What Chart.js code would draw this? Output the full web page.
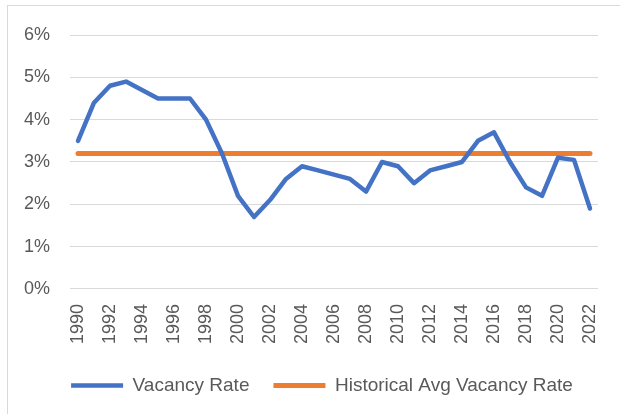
<!DOCTYPE html>
<html>
<head>
<meta charset="utf-8">
<script src="https://cdn.jsdelivr.net/npm/chart.js@4"></script>
<style>
  html, body { margin: 0; padding: 0; background: #fff; overflow: hidden; }
  #wrap { position: relative; width: 620px; height: 414px; }
  #frame { position: absolute; left: 7px; top: 5px; right: -2px; bottom: -2px;
           border-left: 1px solid #d9d9d9; border-top: 1px solid #d9d9d9; pointer-events: none; }
</style>
</head>
<body>
<div id="wrap">
  <canvas id="vacancy-chart"></canvas>
  <div id="frame"></div>
</div>
<script>
const years = ['1990', '1991', '1992', '1993', '1994', '1995', '1996', '1997', '1998', '1999',
    '2000', '2001', '2002', '2003', '2004', '2005', '2006', '2007', '2008', '2009',
    '2010', '2011', '2012', '2013', '2014', '2015', '2016', '2017', '2018', '2019',
    '2020', '2021', '2022'];
const vacancyRate = [3.5, 4.4, 4.8, 4.9, 4.7, 4.5, 4.5, 4.5, 4.0, 3.2,
    2.2, 1.7, 2.1, 2.6, 2.9, 2.8, 2.7, 2.6, 2.3, 3.0,
    2.9, 2.5, 2.8, 2.9, 3.0, 3.5, 3.7, 3.0, 2.4, 2.2,
    3.1, 3.05, 1.9];
const historicalAvg = [3.2, 3.2, 3.2, 3.2, 3.2, 3.2, 3.2, 3.2, 3.2, 3.2,
    3.2, 3.2, 3.2, 3.2, 3.2, 3.2, 3.2, 3.2, 3.2, 3.2,
    3.2, 3.2, 3.2, 3.2, 3.2, 3.2, 3.2, 3.2, 3.2, 3.2,
    3.2, 3.2, 3.2];
const yTicks = [0, 1, 2, 3, 4, 5, 6];

const textGray = '#595959';
const font = { family: '"Liberation Sans", Arial, sans-serif', size: 18 };

// nudge the legend a bit right and up, like the original
const legendShift = {
    id: 'legendShift',
    afterLayout(chart) {
        chart.legend.left += 22;
        chart.legend.top -= 7;
        chart.legend.bottom -= 7;
    }
};

const ctx = document.getElementById('vacancy-chart').getContext('2d');
const vacancyChart = new Chart(ctx, {
    type: 'line',
    data: {
        labels: years,
        datasets: [{
            label: 'Vacancy Rate',
            data: vacancyRate,
            borderColor: '#4472C4',
            backgroundColor: '#4472C4',
            borderWidth: 4.5,
            borderCapStyle: 'round',
            borderJoinStyle: 'round',
            pointStyle: 'line',
            pointRadius: 0,
            tension: 0,
            fill: false
        }, {
            label: 'Historical Avg Vacancy Rate',
            data: historicalAvg,
            borderColor: '#ED7D31',
            backgroundColor: '#ED7D31',
            borderWidth: 5,
            borderCapStyle: 'round',
            pointStyle: 'line',
            pointRadius: 0,
            tension: 0,
            fill: false
        }]
    },
    options: {
        responsive: true,
        maintainAspectRatio: false,
        animation: false,
        layout: { padding: { left: 24, right: 22, top: 35, bottom: 2 } },
        scales: {
            x: {
                offset: true,
                afterFit: (axis) => { axis.paddingLeft = 0; axis.paddingRight = 0; },
                grid: { display: false, drawTicks: false },
                border: { display: false },
                ticks: {
                    color: textGray,
                    font: font,
                    autoSkip: false,
                    minRotation: 90,
                    maxRotation: 90,
                    padding: 15,
                    callback: function (value, index) {
                        return index % 2 === 0 ? this.getLabelForValue(value) : '';
                    }
                }
            },
            y: {
                min: 0,
                max: 6,
                afterBuildTicks: (axis) => { axis.ticks = yTicks.map(v => ({ value: v })); },
                afterFit: (axis) => { axis.width = 46; },
                grid: { color: '#d9d9d9', lineWidth: 1, drawTicks: false },
                border: { display: false },
                ticks: {
                    color: textGray,
                    font: font,
                    padding: 20,
                    callback: (v) => v + '%'
                }
            }
        },
        plugins: {
            legend: {
                position: 'bottom',
                labels: {
                    color: textGray,
                    font: { family: font.family, size: 19 },
                    usePointStyle: true,
                    pointStyleWidth: 52,
                    boxHeight: 6,
                    padding: 24
                }
            },
            tooltip: { enabled: false }
        }
    },
    plugins: [legendShift]
});
</script>
</body>
</html>
